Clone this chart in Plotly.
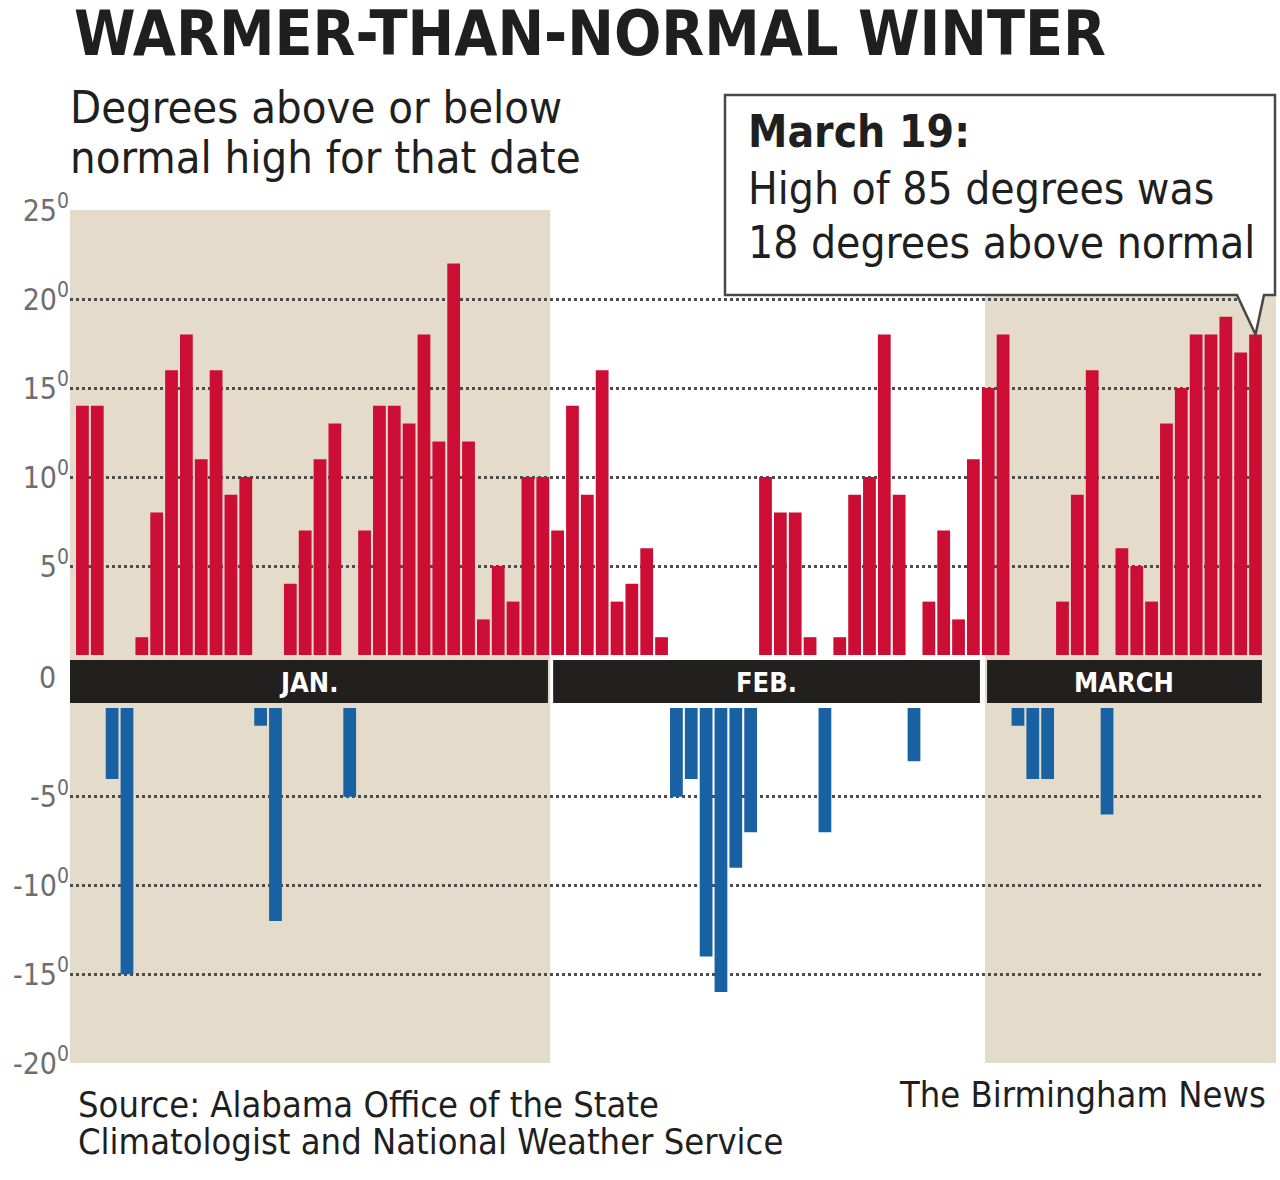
import plotly.graph_objects as go

# ---------------- data ----------------
month_names = ["JAN.", "FEB.", "MARCH"]
month_bar_counts = [32, 29, 19]          # bars drawn under each month band

jan_values = [14, 14, -4, -15, 1, 8, 16, 18, 11, 16, 9, 10, -1, -12, 4, 7,
              11, 13, -5, 7, 14, 14, 13, 18, 12, 22, 12, 2, 5, 3, 10, 10]
feb_values = [7, 14, 9, 16, 3, 4, 6, 1, -5, -4, -14, -16, -9, -7, 10, 8,
              8, 1, -7, 1, 9, 10, 18, 9, -3, 3, 7, 2, 11]
mar_values = [15, 18, -1, -4, -4, 3, 9, 16, -6, 6, 5, 3, 13, 15, 18, 18,
              19, 17, 18]

pos_ticks = [5, 10, 15, 20, 25]
neg_ticks = [-5, -10, -15, -20]
pos_ticktext = [f"{v}<sup>0</sup>" for v in pos_ticks]
neg_ticktext = [f"{v}<sup>0</sup>" for v in neg_ticks]

departures = jan_values + feb_values + mar_values
day_index = list(range(len(departures)))
above = [v if v > 0 else None for v in departures]
below = [v if v < 0 else None for v in departures]

# ---------------- styling ----------------
FONT = "Liberation Sans Narrow, Arial Narrow, DejaVu Sans Condensed, Roboto Condensed, sans-serif"
RED = "#cc0d34"
BLUE = "#1862a3"
BEIGE = "#e5dbca"
BLACK = "#221f1f"
GRID = "#4d4d4d"
TICK = "#6e6e6e"
TEXT = "#1f1f1f"

W, H = 1280, 1180
PL, PR, PT, PB = 70, 1264, 210, 1063       # plot area in pixels
X_RANGE = [-0.837, 79.57]


def px_x(px):
    return (px - PL) / (PR - PL)


def px_y(py):
    return (PB - py) / (PB - PT)


def dx(x):
    """data x -> paper x"""
    return (x - X_RANGE[0]) / (X_RANGE[1] - X_RANGE[0])


TOP_DOMAIN = [px_y(655), 1.0]
BOT_DOMAIN = [0.0, px_y(708)]


def dy_top(v):
    """top-axis value -> paper y"""
    return TOP_DOMAIN[0] + (TOP_DOMAIN[1] - TOP_DOMAIN[0]) * v / 25.0


fig = go.Figure()
fig.add_trace(go.Bar(x=day_index, y=above, marker=dict(color=RED, line=dict(width=0)),
                     width=0.86, yaxis="y", xaxis="x", hoverinfo="skip"))
fig.add_trace(go.Bar(x=day_index, y=below, marker=dict(color=BLUE, line=dict(width=0)),
                     width=0.86, yaxis="y2", xaxis="x", hoverinfo="skip"))

shapes = []
annotations = []

# month boundaries (in data units)
bounds = []
start = -0.5
for n in month_bar_counts:
    bounds.append((start, start + n))
    start += n

# beige backgrounds for Jan and March
shapes.append(dict(type="rect", xref="paper", yref="paper", layer="below",
                   x0=dx(X_RANGE[0]), x1=dx(bounds[0][1]), y0=0, y1=1,
                   fillcolor=BEIGE, line=dict(width=0)))
shapes.append(dict(type="rect", xref="paper", yref="paper", layer="below",
                   x0=dx(bounds[2][0] + 0.28), x1=px_x(1276), y0=0, y1=1,
                   fillcolor=BEIGE, line=dict(width=0)))

# black month bands
band_y0, band_y1 = px_y(703), px_y(660)
band_x = [(X_RANGE[0], bounds[0][1] - 0.15),
          (bounds[1][0] + 0.2, bounds[1][1] - 0.06),
          (bounds[2][0] + 0.42, bounds[2][1] - 0.07)]
for name, (a, b) in zip(month_names, band_x):
    shapes.append(dict(type="rect", xref="paper", yref="paper", layer="above",
                       x0=dx(a), x1=dx(b), y0=band_y0, y1=band_y1,
                       fillcolor=BLACK, line=dict(width=0)))
    annotations.append(dict(text=f"<b>{name}</b>", x=(dx(a) + dx(b)) / 2, y=px_y(682),
                            xref="paper", yref="paper", showarrow=False,
                            xanchor="center", yanchor="middle",
                            font=dict(family=FONT, size=27, color="white")))

# callout box with pointer to the last bar
tip_x = dx(day_index[-1])
tip_y = dy_top(departures[-1])
bx0, bx1, by_top, by_bot = px_x(725), px_x(1275), px_y(95), px_y(295)
path = (f"M {bx0},{by_top} L {bx1},{by_top} L {bx1},{by_bot} "
        f"L {px_x(1264)},{by_bot} L {tip_x},{tip_y} L {px_x(1237)},{by_bot} "
        f"L {bx0},{by_bot} Z")
shapes.append(dict(type="path", path=path, xref="paper", yref="paper", layer="above",
                   fillcolor="white", line=dict(color="#474747", width=2.5)))


def add_text(text, px, py, size, bold=False, color=TEXT, xanchor="left"):
    annotations.append(dict(text=f"<b>{text}</b>" if bold else text,
                            x=px_x(px), y=px_y(py), xref="paper", yref="paper",
                            showarrow=False, xanchor=xanchor, yanchor="middle",
                            font=dict(family=FONT, size=size, color=color)))


add_text("WARMER-THAN-NORMAL WINTER", 72, 33, 62, bold=True)
add_text("Degrees above or below", 68, 107, 45)
add_text("normal high for that date", 68, 157, 45)
add_text("March 19:", 746, 132, 44, bold=True)
add_text("High of 85 degrees was", 746, 189, 44)
add_text("18 degrees above normal", 746, 243, 44)
add_text("Source: Alabama Office of the State", 76, 1104, 36)
add_text("Climatologist and National Weather Service", 76, 1141, 36)
add_text("The Birmingham News", 1268, 1094, 36, xanchor="right")
add_text("0", 47, 677, 30, color=TICK, xanchor="center")

axis_common = dict(showline=False, zeroline=False, ticks="",
                   showgrid=True, gridcolor=GRID, gridwidth=2.5, griddash="dot",
                   tickfont=dict(family=FONT, size=30, color=TICK), fixedrange=True)

fig.update_layout(
    width=W, height=H, autosize=False,
    margin=dict(l=PL, r=W - PR, t=PT, b=H - PB, pad=0),
    paper_bgcolor="white", plot_bgcolor="rgba(0,0,0,0)",
    showlegend=False, barmode="overlay",
    xaxis=dict(range=X_RANGE, showgrid=False, zeroline=False, showticklabels=False,
               ticks="", showline=False, fixedrange=True),
    yaxis=dict(domain=TOP_DOMAIN, range=[0, 25], tickvals=pos_ticks, ticktext=pos_ticktext,
               **axis_common),
    yaxis2=dict(domain=BOT_DOMAIN, range=[-20, 0], tickvals=neg_ticks, ticktext=neg_ticktext,
                anchor="x", **axis_common),
    shapes=shapes, annotations=annotations,
)

fig.write_html("out.html", config={"displayModeBar": False},
               post_script="document.body.style.margin='0';")
